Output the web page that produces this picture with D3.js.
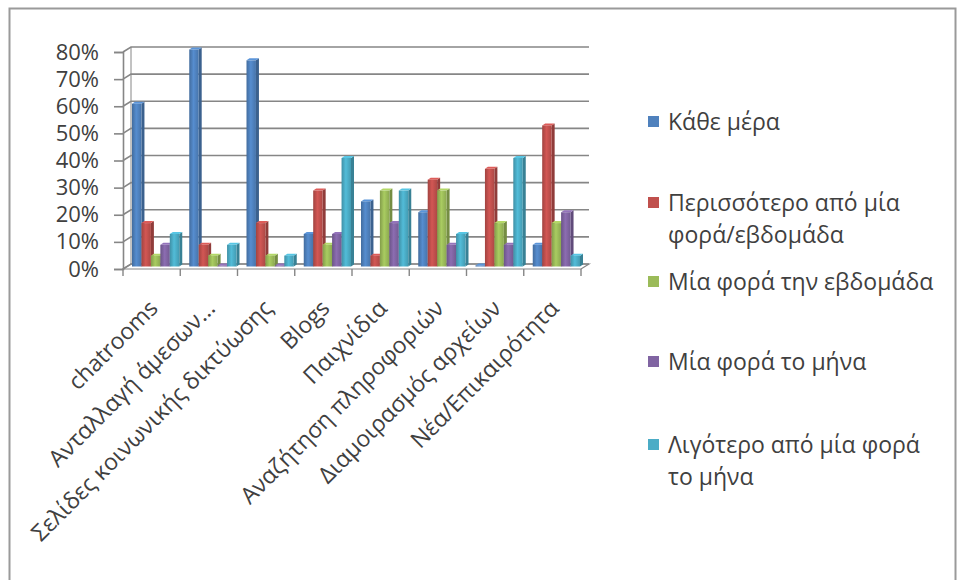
<!DOCTYPE html>
<html>
<head>
<meta charset="utf-8">
<script src="https://cdn.jsdelivr.net/npm/d3@7"></script>
<style>
  body { margin: 0; background: #fff; }
  text { font-family: "Open Sans", "Noto Sans", sans-serif; fill: #404040; }
</style>
</head>
<body>
<div id="chart"></div>
<script>
var categories = ["chatrooms", "Ανταλλαγή άμεσων...", "Σελίδες κοινωνικής δικτύωσης", "Blogs",
                  "Παιχνίδια", "Αναζήτηση πληροφοριών", "Διαμοιρασμός αρχείων", "Νέα/Επικαιρότητα"];
var seriesNames = ["Κάθε μέρα", "Περισσότερο από μία φορά/εβδομάδα", "Μία φορά την εβδομάδα",
                   "Μία φορά το μήνα", "Λιγότερο από μία φορά το μήνα"];
// legend lines (wrapped as in the picture)
var legendLines = [["Κάθε μέρα"], ["Περισσότερο από μία", "φορά/εβδομάδα"], ["Μία φορά την εβδομάδα"],
                   ["Μία φορά το μήνα"], ["Λιγότερο από μία φορά", "το μήνα"]];
var kathe     = [60, 80, 76, 12, 24, 20, 0.4, 8];
var perissot  = [16, 8, 16, 28, 4, 32, 36, 52];
var miaEvd    = [4, 4, 4, 8, 28, 28, 16, 16];
var miaMina   = [8, 0.4, 0.4, 12, 16, 8, 8, 20];
var ligotero  = [12, 8, 4, 40, 28, 12, 40, 4];
var values = [kathe, perissot, miaEvd, miaMina, ligotero];
var yTicks = [0, 10, 20, 30, 40, 50, 60, 70, 80];
var colors = ["#4F81BD", "#C0504D", "#9BBB59", "#8064A2", "#4BACC6"];

var width = 961, height = 580;
var dx = 8, dy = -5; // depth of the 3d box

var svg = d3.select("#chart").append("svg")
    .attr("width", width)
    .attr("height", height);

// outer frame
svg.append("rect")
    .attr("x", 9.5).attr("y", 8.5)
    .attr("width", 946).attr("height", 580)
    .attr("fill", "none").attr("stroke", "#9a9a9a").attr("stroke-width", 2);

var x0 = d3.scaleBand().domain(categories).range([123, 581]);
var x1 = d3.scaleBand().domain(d3.range(5)).range([5, x0.bandwidth() - 5]);
var y = d3.scaleLinear().domain([0, 80]).range([269, 52]);

var defs = svg.append("defs");
colors.forEach(function(c, i) {
    var g = defs.append("linearGradient").attr("id", "grad" + i)
        .attr("x1", 0).attr("x2", 1).attr("y1", 0).attr("y2", 0);
    g.append("stop").attr("offset", "0%").attr("stop-color", d3.color(c).darker(0.5));
    g.append("stop").attr("offset", "45%").attr("stop-color", d3.color(c).brighter(0.25));
    g.append("stop").attr("offset", "100%").attr("stop-color", d3.color(c).darker(0.3));
});

var grid = svg.append("g").attr("stroke", "#868686").attr("stroke-width", 1.6).attr("fill", "none");
var left = x0.range()[0], right = x0.range()[1];

// floor
grid.append("path")
    .attr("d", "M" + left + "," + y(0) + "L" + right + "," + y(0) + "L" + (right + dx) + "," + (y(0) + dy) +
               "L" + (left + dx) + "," + (y(0) + dy) + "Z")
    .attr("stroke-width", 1.2);

// back wall gridlines with left-wall connectors
yTicks.forEach(function(t) {
    grid.append("path")
        .attr("d", "M" + left + "," + y(t) + "L" + (left + dx) + "," + (y(t) + dy) + "L" + (right + dx) + "," + (y(t) + dy));
});
grid.append("line")
    .attr("x1", left + dx).attr("x2", left + dx)
    .attr("y1", y(80) + dy).attr("y2", y(0) + dy).attr("stroke-width", 1);

// bars (simple 3d blocks)
var depth = 3;
var bars = svg.append("g");
categories.forEach(function(cat, ci) {
    values.forEach(function(series, si) {
        var v = series[ci];
        var bx = x0(cat) + x1(si) + dx / 2;
        var bw = x1.bandwidth();
        var base = y(0) + dy / 2;
        var top = y(v) + dy / 2;
        var g = bars.append("g");
        // side
        g.append("path")
            .attr("d", "M" + (bx + bw) + "," + base + "L" + (bx + bw + depth) + "," + (base - 2) +
                       "L" + (bx + bw + depth) + "," + (top - 2) + "L" + (bx + bw) + "," + top + "Z")
            .attr("fill", d3.color(colors[si]).darker(0.8));
        // top
        g.append("path")
            .attr("d", "M" + bx + "," + top + "L" + (bx + depth) + "," + (top - 2) +
                       "L" + (bx + bw + depth) + "," + (top - 2) + "L" + (bx + bw) + "," + top + "Z")
            .attr("fill", d3.color(colors[si]).brighter(0.4));
        // front
        g.append("rect")
            .attr("x", bx).attr("y", top)
            .attr("width", bw).attr("height", Math.max(0, base - top))
            .attr("fill", "url(#grad" + si + ")");
    });
});

// y axis
var yAxis = svg.append("g")
    .attr("transform", "translate(" + left + ",0)")
    .call(d3.axisLeft(y).tickValues(yTicks).tickSize(9).tickFormat(function(d) { return d + "%"; }));
yAxis.select(".domain").attr("stroke", "#868686").attr("stroke-width", 1.6);
yAxis.selectAll(".tick line").attr("stroke", "#868686").attr("stroke-width", 1.6);
yAxis.selectAll(".tick text")
    .attr("x", -24)
    .style("font-size", "22px").attr("fill", "#404040");

// x axis
var xAxis = svg.append("g")
    .attr("transform", "translate(0," + y(0) + ")");
xAxis.selectAll(".sep")
    .data(d3.range(categories.length + 1)).enter()
    .append("line")
    .attr("x1", function(i) { return left + i * x0.step(); })
    .attr("x2", function(i) { return left + i * x0.step(); })
    .attr("y1", 0).attr("y2", 7)
    .attr("stroke", "#868686").attr("stroke-width", 1.4);
xAxis.selectAll(".lbl")
    .data(categories).enter()
    .append("text")
    .attr("text-anchor", "end")
    .attr("transform", function(d) {
        return "translate(" + (x0(d) + x0.bandwidth() / 2 + 2) + ",35) rotate(-45)";
    })
    .attr("dy", "0.35em")
    .style("font-size", "23px")
    .text(function(d) { return d; });

// legend
var legend = svg.append("g");
var legendY = [122, 203, 282, 362, 445];
seriesNames.forEach(function(name, i) {
    var g = legend.append("g").attr("transform", "translate(648," + legendY[i] + ")");
    g.append("rect").attr("x", 0).attr("y", -6).attr("width", 11).attr("height", 11).attr("fill", colors[i]);
    g.selectAll("text").data(legendLines[i]).enter()
        .append("text")
        .attr("x", 20)
        .attr("y", function(d, j) { return j * 32; })
        .attr("dy", "0.35em")
        .style("font-size", "23px")
        .text(function(d) { return d; });
});
</script>
</body>
</html>
